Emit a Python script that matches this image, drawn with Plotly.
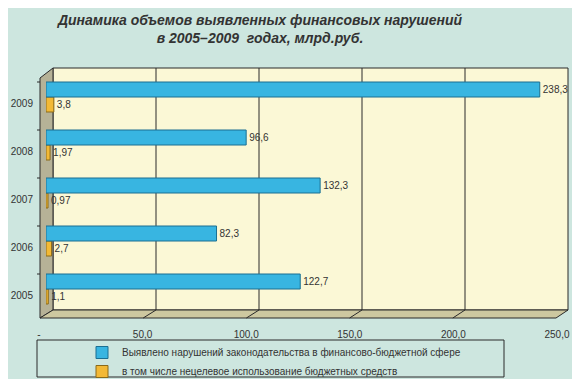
import plotly.graph_objects as go

# page body has an 8px margin: the figure is drawn from (8, 8) of the window
OFF = 8
W, H = 580 - OFF, 379 - OFF

years = ["2005", "2006", "2007", "2008", "2009"]
violations = [122.7, 82.3, 132.3, 96.6, 238.3]
misuse = [1.1, 2.7, 0.97, 1.97, 3.8]
tick_vals = [0, 50, 100, 150, 200, 250]
tick_text = ["-", "50,0", "100,0", "150,0", "200,0", "250,0"]
name_violations = "Выявлено нарушений законодательства в финансово-бюджетной сфере"
name_misuse = "в том числе нецелевое использование бюджетных средств"
title_text = "Динамика объемов выявленных финансовых нарушений<br>в 2005–2009  годах, млрд.руб."


def fmt(v):
    return str(v).replace(".", ",")


def px(x):
    return (x - OFF) / W


def py(y):
    return 1 - (y - OFF) / H


BG = "#cde6df"
WALL = "#fbf8d6"
SIDE = "#b6b297"
FLOOR = "#cdc8a0"
DARK = "#2a2a2a"
LBL = "Liberation Sans, Arial, sans-serif"

fig = go.Figure()

fig.add_trace(go.Bar(
    y=years, x=misuse, orientation="h", name=name_misuse,
    marker=dict(color="#f2b936", line=dict(color="#8a6a1a", width=1)),
    text=[fmt(v) for v in misuse], textposition="outside",
    textfont=dict(family=LBL, size=10, color="#333333"),
    cliponaxis=False, legendrank=2,
))
fig.add_trace(go.Bar(
    y=years, x=violations, orientation="h", name=name_violations,
    marker=dict(color="#38b5e1", line=dict(color="#1b6f92", width=1)),
    text=[fmt(v) for v in violations], textposition="outside",
    textfont=dict(family=LBL, size=10, color="#333333"),
    cliponaxis=False, legendrank=1,
))

shapes = []
# back wall
shapes.append(dict(type="rect", xref="paper", yref="paper", layer="below",
                   x0=px(53), x1=px(568), y0=py(310), y1=py(68),
                   fillcolor=WALL, line=dict(color=DARK, width=1)))
# left wall
shapes.append(dict(type="path", xref="paper", yref="paper", layer="below",
                   path=f"M {px(40)},{py(78)} L {px(53)},{py(68)} L {px(53)},{py(310)} L {px(40)},{py(318)} Z",
                   fillcolor=SIDE, line=dict(color=DARK, width=1)))
# floor
shapes.append(dict(type="path", xref="paper", yref="paper", layer="below",
                   path=f"M {px(40)},{py(318)} L {px(53)},{py(310)} L {px(568)},{py(310)} L {px(556)},{py(318)} Z",
                   fillcolor=FLOOR, line=dict(color=DARK, width=1)))
# gridlines on back wall and floor
front = [40 + (556 - 40) * v / 250 for v in tick_vals]
back = [53 + (568 - 53) * v / 250 for v in tick_vals]
for f, b in zip(front[1:-1], back[1:-1]):
    shapes.append(dict(type="line", xref="paper", yref="paper", layer="below",
                       x0=px(b), x1=px(b), y0=py(310), y1=py(68),
                       line=dict(color=DARK, width=1)))
    shapes.append(dict(type="line", xref="paper", yref="paper", layer="below",
                       x0=px(f), x1=px(b), y0=py(318), y1=py(310),
                       line=dict(color=DARK, width=1)))
# small ticks on the left wall between categories
for yy in [78, 126, 174, 222, 270]:
    shapes.append(dict(type="line", xref="paper", yref="paper", layer="below",
                       x0=px(37), x1=px(40), y0=py(yy + 4), y1=py(yy + 4),
                       line=dict(color=DARK, width=1)))
# legend frame
shapes.append(dict(type="rect", xref="paper", yref="paper", layer="below",
                   x0=px(37), x1=px(504), y0=py(377), y1=py(340),
                   line=dict(color=DARK, width=1), fillcolor="rgba(0,0,0,0)"))

fig.update_layout(
    width=W, height=H,
    margin=dict(l=0, r=0, t=0, b=0, autoexpand=False),
    paper_bgcolor=BG, plot_bgcolor="rgba(0,0,0,0)",
    barmode="group", bargap=0.375, bargroupgap=0,
    title=dict(text=title_text, x=px(260), xanchor="center", y=py(25), yanchor="middle",
               font=dict(family="Liberation Sans, Arial, sans-serif", size=14,
                         color="#333333", weight="bold", style="italic")),
    xaxis=dict(domain=[px(46), px(564)], range=[0, 250],
               tickvals=tick_vals, ticktext=tick_text,
               ticklabelshift=-7, ticklabelstandoff=14,
               showgrid=False, zeroline=False, showline=False, ticks="",
               tickfont=dict(family=LBL, size=10, color="#333333")),
    yaxis=dict(domain=[py(313), py(73)], range=[-0.5, 4.5], showgrid=False,
               zeroline=False, showline=False, ticks="",
               ticklabelstandoff=12, ticklabelshift=6,
               tickfont=dict(family=LBL, size=10, color="#333333")),
    legend=dict(x=px(82), y=py(338), xanchor="left", yanchor="top",
                bgcolor="rgba(0,0,0,0)", borderwidth=0,
                font=dict(family=LBL, size=10, color="#333333"),
                itemwidth=30, tracegroupgap=0),
    shapes=shapes,
    showlegend=True,
)

fig.write_html("out.html")
